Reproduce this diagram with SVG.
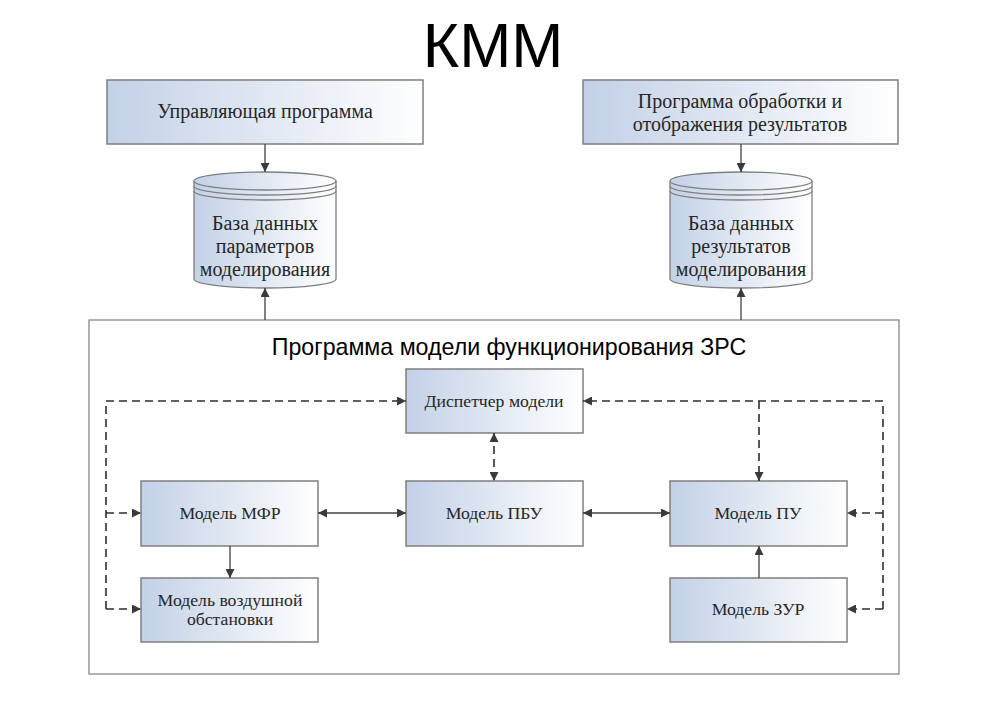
<svg xmlns="http://www.w3.org/2000/svg" width="993" height="712" viewBox="0 0 993 712">
<defs>
  <linearGradient id="g" x1="0" y1="0" x2="1" y2="0">
    <stop offset="0" stop-color="#c3d1e7"/>
    <stop offset="1" stop-color="#ffffff"/>
  </linearGradient>
  <marker id="ah" viewBox="0 0 10 10" refX="10" refY="5" markerWidth="9" markerHeight="9" markerUnits="userSpaceOnUse" orient="auto-start-reverse">
    <path d="M0,0 L10,5 L0,10 Z" fill="#3a3a3a"/>
  </marker>
  <style>
    .box{fill:url(#g);stroke:#7f7f7f;stroke-width:1.5}
    .frame{fill:#fff;stroke:#7f7f7f;stroke-width:1.2}
    .t{font-family:"Liberation Serif","Times New Roman",serif;font-size:17.7px;fill:#262626;text-anchor:middle}
    .tb{font-size:20px}
    .s{font-family:"Liberation Sans",Arial,sans-serif;fill:#000;text-anchor:middle}
    .ln{fill:none;stroke:#404040;stroke-width:1.3}
    .d{stroke-dasharray:8 5;stroke:#2e2e2e;stroke-width:1.6}
    .cyl{fill:url(#g);stroke:#7f7f7f;stroke-width:1.3}
    .arc{fill:none;stroke:#7f7f7f;stroke-width:1.3}
  </style>
</defs>
<rect width="993" height="712" fill="#fff"/>
<text class="s" x="493" y="67" font-size="62.5">КММ</text>

<g id="frame">
  <rect class="frame" x="89" y="320" width="810" height="354"/>
  <text class="s" x="509" y="355" font-size="23.2">Программа модели функционирования ЗРС</text>
</g>

<g id="control">
  <rect class="box" x="107" y="80" width="316" height="64"/>
  <text class="t tb" x="265" y="118">Управляющая программа</text>
</g>
<g id="results-prog">
  <rect class="box" x="583" y="80" width="315" height="64"/>
  <text class="t tb" x="740" y="108">Программа обработки и</text>
  <text class="t tb" x="740" y="131">отображения результатов</text>
</g>

<g id="db-params">
  <path class="cyl" d="M194,181 L194,279 A71,9 0 0 0 336,279 L336,181 A71,9 0 0 0 194,181 Z"/>
  <path class="arc" d="M194,181 A71,9 0 0 0 336,181"/>
  <path class="arc" d="M194,186 A71,9 0 0 0 336,186"/>
  <path class="arc" d="M194,191 A71,9 0 0 0 336,191"/>
  <text class="t tb" x="265" y="230">База данных</text>
  <text class="t tb" x="265" y="253">параметров</text>
  <text class="t tb" x="265" y="276">моделирования</text>
</g>
<g id="db-results">
  <path class="cyl" d="M670,181 L670,279 A71,9 0 0 0 812,279 L812,181 A71,9 0 0 0 670,181 Z"/>
  <path class="arc" d="M670,181 A71,9 0 0 0 812,181"/>
  <path class="arc" d="M670,186 A71,9 0 0 0 812,186"/>
  <path class="arc" d="M670,191 A71,9 0 0 0 812,191"/>
  <text class="t tb" x="741" y="230">База данных</text>
  <text class="t tb" x="741" y="253">результатов</text>
  <text class="t tb" x="741" y="276">моделирования</text>
</g>

<g id="dispatcher">
  <rect class="box" x="406" y="369" width="177" height="64"/>
  <text class="t" x="494" y="407">Диспетчер модели</text>
</g>
<g id="mfr">
  <rect class="box" x="141" y="481" width="177" height="65"/>
  <text class="t" x="230" y="519">Модель МФР</text>
</g>
<g id="pbu">
  <rect class="box" x="406" y="481" width="177" height="65"/>
  <text class="t" x="494" y="519">Модель ПБУ</text>
</g>
<g id="pu">
  <rect class="box" x="670" y="481" width="177" height="65"/>
  <text class="t" x="758" y="519">Модель ПУ</text>
</g>
<g id="air">
  <rect class="box" x="141" y="578" width="177" height="64"/>
  <text class="t" x="230" y="606">Модель воздушной</text>
  <text class="t" x="230" y="625">обстановки</text>
</g>
<g id="zur">
  <rect class="box" x="670" y="578" width="177" height="64"/>
  <text class="t" x="758" y="615">Модель ЗУР</text>
</g>

<g id="connectors">
  <path class="ln" d="M265,144 L265,172" marker-end="url(#ah)"/>
  <path class="ln" d="M741,144 L741,172" marker-end="url(#ah)"/>
  <path class="ln" d="M265,320 L265,288" marker-end="url(#ah)"/>
  <path class="ln" d="M741,320 L741,288" marker-end="url(#ah)"/>

  <path class="ln" d="M318,513 L406,513" marker-start="url(#ah)" marker-end="url(#ah)"/>
  <path class="ln" d="M583,513 L670,513" marker-start="url(#ah)" marker-end="url(#ah)"/>
  <path class="ln" d="M230,546 L230,578" marker-end="url(#ah)"/>
  <path class="ln" d="M759,578 L759,546" marker-end="url(#ah)"/>

  <path class="ln d" d="M494,433 L494,481" marker-start="url(#ah)" marker-end="url(#ah)"/>

  <path class="ln d" d="M106,609 L106,401 L406,401" marker-end="url(#ah)"/>
  <path class="ln d" d="M106,513 L141,513" marker-end="url(#ah)"/>
  <path class="ln d" d="M106,609 L141,609" marker-end="url(#ah)"/>

  <path class="ln d" d="M883,609 L883,401 L583,401" marker-end="url(#ah)"/>
  <path class="ln d" d="M759,401 L759,481" marker-end="url(#ah)"/>
  <path class="ln d" d="M883,513 L847,513" marker-end="url(#ah)"/>
  <path class="ln d" d="M883,609 L847,609" marker-end="url(#ah)"/>
</g>
</svg>
